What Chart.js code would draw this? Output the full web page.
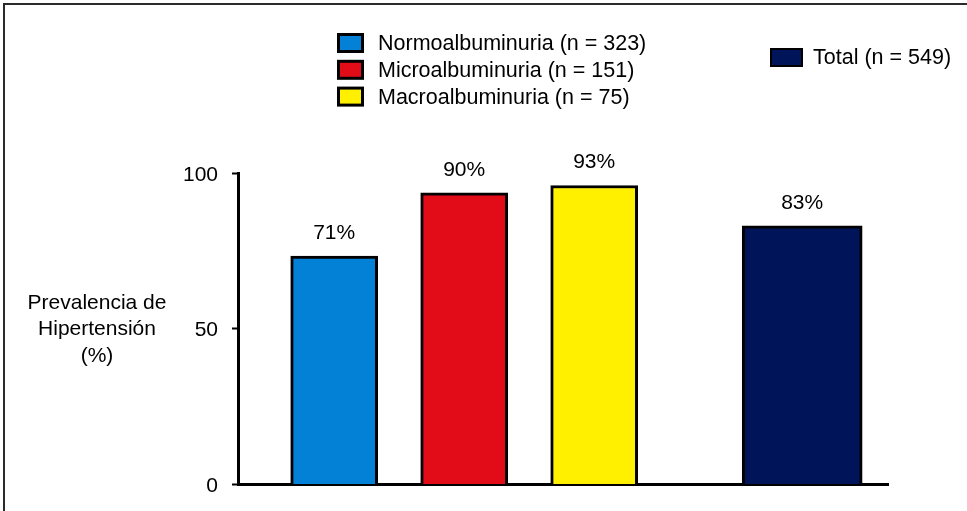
<!DOCTYPE html>
<html>
<head>
<meta charset="utf-8">
<title>Prevalencia de Hipertensión</title>
<script src="https://cdn.jsdelivr.net/npm/chart.js@4.4.1/dist/chart.umd.min.js"></script>
<style>
  html, body { margin: 0; padding: 0; background: #fff; }
  #wrap { position: relative; width: 967px; height: 511px; }
  canvas { display: block; }
</style>
</head>
<body>
<div id="wrap"><canvas id="chart" width="967" height="511"></canvas></div>
<script>
// ─────────────────────────────────────────────────────────────
//  Data
// ─────────────────────────────────────────────────────────────
var GROUPS       = ['Normoalbuminuria (n = 323)', 'Microalbuminuria (n = 151)', 'Macroalbuminuria (n = 75)'];
var GROUP_VALUES = [73.3, 93.6, 96.0];          // bar heights as drawn
var GROUP_LABELS = ['71%', '90%', '93%'];       // printed above the bars

var TOTAL        = 'Total (n = 549)';
var TOTAL_VALUE  = 83.0;
var TOTAL_LABEL  = '83%';

var Y_TICKS      = [0, 50, 100];
var Y_TITLE      = ['Prevalencia de', 'Hipertensión', '(%)'];

// ─────────────────────────────────────────────────────────────
//  Layout / style
// ─────────────────────────────────────────────────────────────
var GROUP_SLOTS  = [1, 2, 3];
var TOTAL_SLOT   = 4.6;
var COLORS       = ['#0281d6', '#e20c18', '#fff000'];
var TOTAL_COLOR  = '#00145a';
var FONT         = '"Liberation Sans", Arial, Helvetica, sans-serif';
var FONT_SIZE    = 21;
var LEGEND_SIZE  = 21.5;

function font(size) { return size + 'px ' + FONT; }

// ─────────────────────────────────────────────────────────────
//  Plugin: frame, legend, y title, value labels
// ─────────────────────────────────────────────────────────────
var decorations = {
  id: 'decorations',
  beforeDraw: function (chart) {
    var ctx = chart.ctx;
    ctx.save();
    ctx.fillStyle = '#fff';
    ctx.fillRect(0, 0, chart.width, chart.height);
    ctx.fillStyle = '#2a2a2a';
    ctx.fillRect(3, 3, chart.width - 3, 2);
    ctx.fillRect(3, 3, 2, chart.height - 3);
    ctx.restore();
  },
  afterDraw: function (chart) {
    var ctx = chart.ctx;
    ctx.save();
    ctx.font = font(LEGEND_SIZE);
    ctx.fillStyle = '#000';
    ctx.textBaseline = 'middle';

    // — legend (albuminuria groups) —
    GROUPS.forEach(function (name, i) {
      var cy = 43 + i * 26.8;
      ctx.fillStyle = '#000';
      ctx.fillRect(337, cy - 10, 27, 20);
      ctx.fillStyle = COLORS[i];
      ctx.fillRect(340, cy - 7, 21, 14);
      ctx.fillStyle = '#000';
      ctx.textAlign = 'left';
      ctx.fillText(name, 378, cy + 1);
    });

    // — legend (total) —
    ctx.fillStyle = '#000';
    ctx.fillRect(770, 48, 33, 19);
    ctx.fillStyle = TOTAL_COLOR;
    ctx.fillRect(772, 50, 29, 15);
    ctx.fillStyle = '#000';
    ctx.fillText(TOTAL, 813, 58.5);

    // — y title —
    ctx.font = font(FONT_SIZE);
    ctx.textAlign = 'center';
    Y_TITLE.forEach(function (line, i) {
      ctx.fillText(line, 97, 303 + i * 26.5);
    });

    // — value labels above bars —
    chart.data.datasets.forEach(function (ds, di) {
      var meta = chart.getDatasetMeta(di);
      meta.data.forEach(function (bar, i) {
        ctx.fillText(ds.valueLabels[i], bar.x, bar.y - 23);
      });
    });
    ctx.restore();
  }
};

// ─────────────────────────────────────────────────────────────
//  Chart
// ─────────────────────────────────────────────────────────────
function boot() {
  var groupPoints = GROUP_VALUES.map(function (v, i) { return { x: GROUP_SLOTS[i], y: v }; });

  new Chart(document.getElementById('chart'), {
    type: 'bar',
    data: {
      datasets: [
        {
          label: 'Albuminuria',
          data: groupPoints,
          valueLabels: GROUP_LABELS,
          backgroundColor: COLORS,
          borderColor: '#000',
          borderWidth: 3,
          borderSkipped: 'bottom',
          barThickness: 87
        },
        {
          label: TOTAL,
          data: [{ x: TOTAL_SLOT, y: TOTAL_VALUE }],
          valueLabels: [TOTAL_LABEL],
          backgroundColor: TOTAL_COLOR,
          borderColor: '#000',
          borderWidth: 3,
          borderSkipped: 'bottom',
          barThickness: 120
        }
      ]
    },
    options: {
      responsive: false,
      animation: false,
      devicePixelRatio: 1,
      layout: { padding: { top: 173, bottom: 23, left: 0, right: 79 } },
      plugins: {
        legend: { display: false },
        tooltip: { enabled: false }
      },
      datasets: { bar: { grouped: false } },
      scales: {
        x: {
          type: 'linear',
          min: 0.26,
          max: 5.26,
          offset: false,
          grid: { display: false },
          ticks: { display: false },
          border: { display: true, color: '#000', width: 3 },
          afterFit: function (s) { s.height = 0; }
        },
        y: {
          min: 0,
          max: 100,
          afterBuildTicks: function (s) {
            s.ticks = Y_TICKS.map(function (v) { return { value: v }; });
          },
          grid: {
            display: true,
            drawOnChartArea: false,
            drawTicks: true,
            tickLength: 6,
            tickWidth: 2,
            tickColor: '#000'
          },
          border: { display: true, color: '#000', width: 3 },
          ticks: {
            color: '#000',
            padding: 14,
            labelOffset: 2,
            font: { family: FONT, size: FONT_SIZE }
          },
          afterFit: function (s) { s.width = 238; }
        }
      }
    },
    plugins: [decorations]
  });
}

boot();
</script>
</body>
</html>
